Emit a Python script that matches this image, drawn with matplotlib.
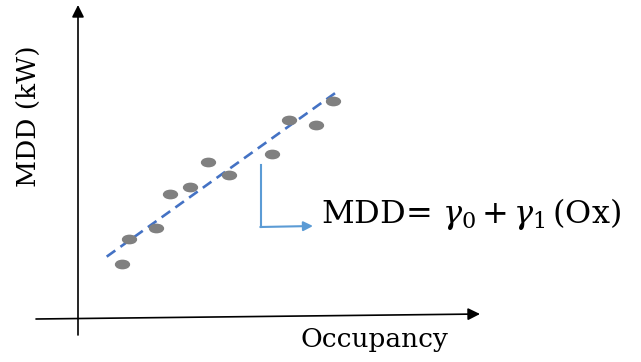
import numpy as np
import matplotlib.pyplot as plt
from matplotlib.path import Path

plt.rcParams['font.family'] = 'DejaVu Serif'
plt.rcParams['mathtext.fontset'] = 'dejavuserif'

# schematic data (origin at the axes crossing, units ~ pixels)
occupancy = [43.7, 51.3, 78.0, 92.0, 112.0, 130.3, 151.3, 193.7, 211.3, 238.0, 254.7]
mdd = [54.0, 78.7, 89.7, 123.7, 131.3, 155.7, 142.7, 163.7, 198.0, 193.0, 217.3]
gamma0 = 40.8
gamma1 = 0.716
fit_x = [28.7, 259.3]

eq_label = r'MDD= $\gamma_0\,$+$\,\gamma_1\,$(Ox)'
x_label = 'Occupancy'
y_label = 'MDD (kW)'

fig = plt.figure(figsize=(6.41, 3.62), dpi=100)
ax = fig.add_axes([0, 0, 1, 1])
ax.set_xlim(-78, 563)
ax.set_ylim(-44, 318)
ax.axis('off')

# axes arrows
ax.annotate('', xy=(0, 313), xytext=(0, -17),
            arrowprops=dict(arrowstyle='-|>', color='black', lw=1.2,
                            mutation_scale=18, shrinkA=0, shrinkB=0))
ax.annotate('', xy=(402, 4), xytext=(-42, -1),
            arrowprops=dict(arrowstyle='-|>', color='black', lw=1.2,
                            mutation_scale=18, shrinkA=0, shrinkB=0))

# regression line
fx = np.array(fit_x)
ax.plot(fx, gamma0 + gamma1 * fx, color='#4472C4', lw=1.9,
        dashes=(4, 2.4), zorder=2)

# ellipse dots
circ = Path.unit_circle()
ell = Path(circ.vertices * [1, 0.6], circ.codes)
ax.plot(occupancy, mdd, ls='none', marker=ell, markersize=10,
        color='#808080', zorder=3)

# callout
ax.plot([183, 183], [153, 91], color='#5B9BD5', lw=1.5)
ax.annotate('', xy=(235, 92), xytext=(182.3, 91),
            arrowprops=dict(arrowstyle='-|>', color='#5B9BD5', lw=1.5,
                            mutation_scale=14, shrinkA=0, shrinkB=0))
ax.text(243, 95, eq_label, fontsize=23, ha='left', va='baseline')

ax.text(296, -29, x_label, fontsize=19, ha='center', va='baseline')
ax.text(-50, 202, y_label, fontsize=19, ha='center', va='center', rotation=90)

fig.savefig('out.png', dpi=100)
